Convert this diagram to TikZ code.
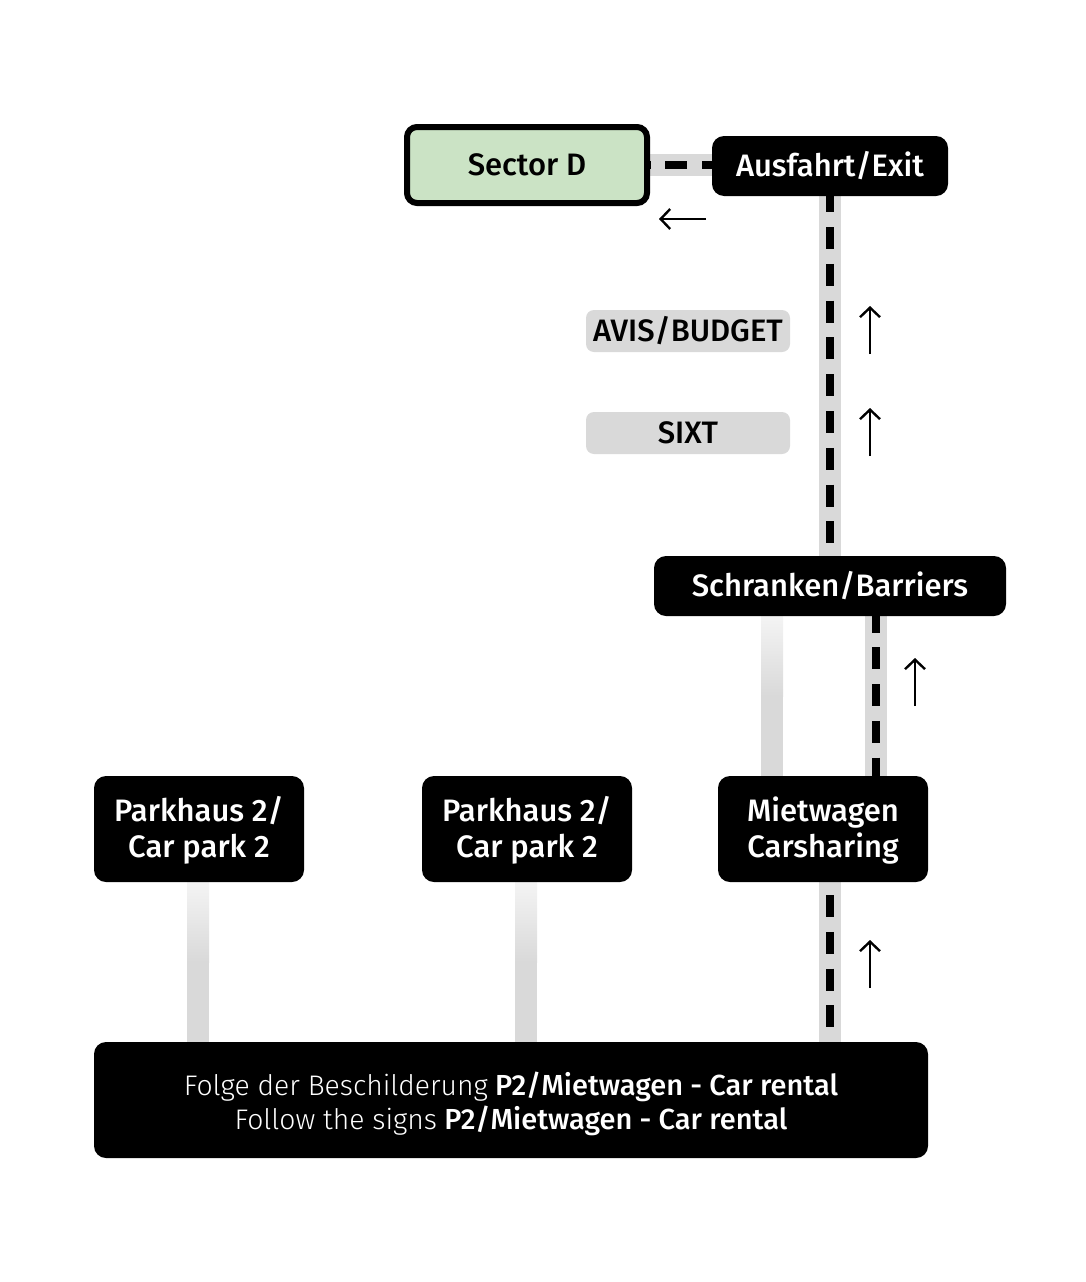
\documentclass[tikz,border=0pt]{standalone}
\usepackage{fontspec}
\setmainfont{Fira Sans Medium}
\newfontfamily\lightf{Fira Sans Light}
\usetikzlibrary{arrows.meta,backgrounds}
\definecolor{roadgray}{HTML}{D9D9D9}
\definecolor{fadegray}{HTML}{F4F4F4}
\definecolor{sectorgreen}{HTML}{CBE3C5}
\newcommand{\twolines}[3]{\raisebox{#1}[\height][\depth]{\begin{tabular}{@{}c@{}}#2\\#3\end{tabular}}}
\tikzset{
  x=1pt,y=-1pt,
  blackbox/.style={fill=black,text=white,rounded corners=12pt,inner sep=0pt,align=center,font=\fontsize{31}{36}\selectfont},
  graybox/.style={fill=roadgray,text=black,rounded corners=8pt,inner sep=0pt,minimum width=204pt,minimum height=42pt,font=\fontsize{31}{36}\selectfont},
  road/.style={draw=roadgray,line width=22pt},
  roaddash/.style={draw=black,line width=8.5pt,dash pattern=on 22pt off 14.8pt},
  fadeV/.style={top color=fadegray,bottom color=roadgray,draw=none},
  walkarrow/.style={draw=black,line width=2.4pt,-{Straight Barb[length=9.5pt,width=20pt,line width=2.4pt]}}
}
\begin{document}
\begin{tikzpicture}
\useasboundingbox (0,0) rectangle (1086,1282);
\node[draw=black,line width=6pt,fill=sectorgreen,rounded corners=10pt,minimum width=240pt,minimum height=76pt,inner sep=0pt,font=\fontsize{31}{36}\selectfont] (sector) at (527,165) {Sector D};
\node[blackbox,minimum width=236pt,minimum height=60pt] (exit) at (830,166) {Ausfahrt/Exit};
\node[graybox] (avis) at (688,331) {AVIS/BUDGET};
\node[graybox] (sixt) at (688,433) {SIXT};
\node[blackbox,minimum width=352pt,minimum height=60pt] (barriers) at (830,586) {Schranken/Barriers};
\node[blackbox,minimum width=210pt,minimum height=106pt] (p1) at (199,829) {\twolines{-3.5pt}{Parkhaus 2/}{Car park 2}};
\node[blackbox,minimum width=210pt,minimum height=106pt] (p2) at (527,829) {\twolines{-3.5pt}{Parkhaus 2/}{Car park 2}};
\node[blackbox,minimum width=210pt,minimum height=106pt] (rental) at (823,829) {\twolines{-3.5pt}{Mietwagen}{Carsharing}};
\node[blackbox,minimum width=834pt,minimum height=116pt,font=\fontsize{29}{34}\selectfont] (signs) at (511,1100) {\twolines{-5.5pt}{{\lightf\fontsize{28.3}{34}\selectfont Folge der Beschilderung} P2/Mietwagen - Car rental}{{\lightf\fontsize{28.3}{34}\selectfont Follow the signs} P2/Mietwagen - Car rental}};
\coordinate (a1s) at (706,219); \coordinate (a1e) at (659,219);
\coordinate (a2s) at (870,354); \coordinate (a2e) at (870,306);
\coordinate (a3s) at (870,456); \coordinate (a3e) at (870,408);
\coordinate (a4s) at (915,706); \coordinate (a4e) at (915,658);
\coordinate (a5s) at (870,988); \coordinate (a5e) at (870,940);
\begin{scope}[on background layer]
  \path[road] (650,165) -- (712,165);
  \path[road] (exit.south) -- (barriers.north);
  \path[road] (876,616) -- (876,776);
  \path[road] (830,882) -- (830,1042);
  \draw[roaddash,dash phase=12pt] (712,165) -- (650,165);
  \draw[roaddash,dash phase=6pt] (exit.south) -- (barriers.north);
  \draw[roaddash,dash phase=5.5pt] (876,616) -- (876,776);
  \draw[roaddash,dash phase=23.8pt] (830,882) -- (830,1042);
  \fill[fadeV] (761,616) rectangle (783,696);
  \fill[roadgray] (761,696) rectangle (783,776);
  \fill[fadeV] (187,882) rectangle (209,962);
  \fill[roadgray] (187,962) rectangle (209,1042);
  \fill[fadeV] (515,882) rectangle (537,962);
  \fill[roadgray] (515,962) rectangle (537,1042);
\end{scope}
\draw[walkarrow] (a1s) -- (a1e);
\draw[walkarrow] (a2s) -- (a2e);
\draw[walkarrow] (a3s) -- (a3e);
\draw[walkarrow] (a4s) -- (a4e);
\draw[walkarrow] (a5s) -- (a5e);
\end{tikzpicture}
\end{document}
